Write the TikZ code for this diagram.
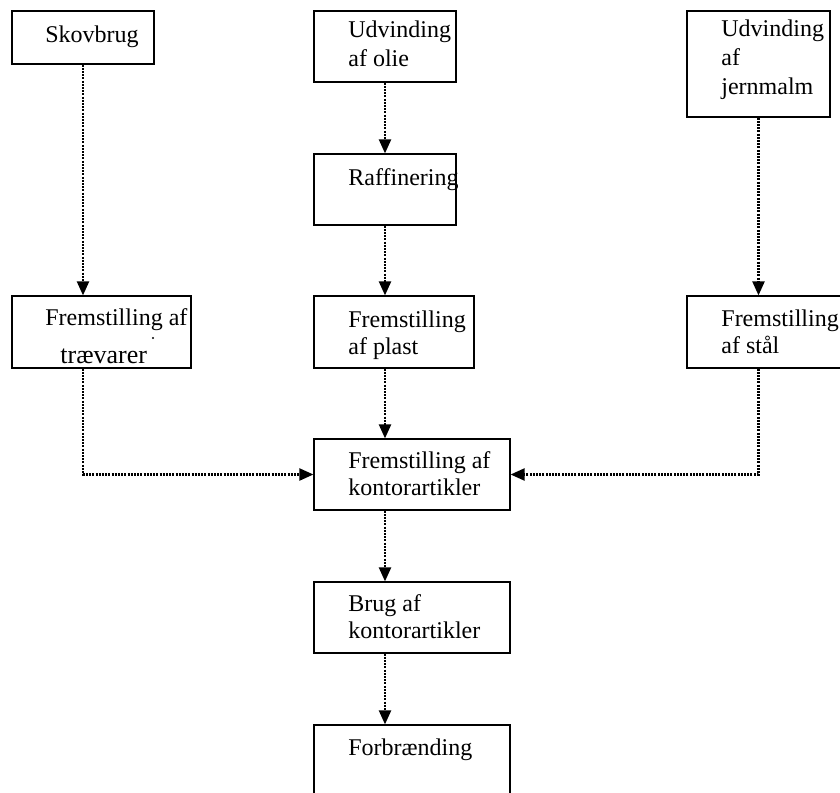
\documentclass[tikz,border=0pt]{standalone}
\usepackage{fontspec}
\setmainfont{Liberation Serif}
\usetikzlibrary{positioning}
\usetikzlibrary{arrows.meta}

\begin{document}
\begin{tikzpicture}[x=0.5pt, y=-0.5pt,
                boxnode/.style={rectangle, draw, line width=0.6pt, inner sep=0pt},
                textnode/.style={anchor=base west, inner sep=0pt, align=left, font=\fontsize{12}{13.4}\selectfont},
                toptext/.style={textnode, font=\fontsize{12}{14.7}\selectfont},
                flow/.style={dash pattern=on 1pt off 0.6pt, line width=1.1pt, -{Triangle[width=6pt,length=7pt]}},
            ]
            \clip (0,0) rectangle (840,792);

            % Boxes
            \node[boxnode, minimum width=71pt, minimum height=26.5pt]   (skovbrug)    at (83,37.5)    {};
            \node[boxnode, minimum width=71pt, minimum height=35.5pt]   (olie)        at (385,46.5)   {};
            \node[boxnode, minimum width=71.5pt, minimum height=53pt]   (jernmalm)    at (758.5,64)   {};
            \node[boxnode, minimum width=71pt, minimum height=35.5pt]   (raffinering) at (385,189.5)  {};
            \node[boxnode, minimum width=89.5pt, minimum height=36pt]   (traevarer)   at (101.5,332)  {};
            \node[boxnode, minimum width=80pt, minimum height=36pt]     (plast)       at (394,332)    {};
            \node[boxnode, minimum width=81.5pt, minimum height=36pt]   (staal)       at (768.5,332)  {};
            \node[boxnode, minimum width=98pt, minimum height=35.5pt]   (kontor)      at (412,474.5)  {};
            \node[boxnode, minimum width=98pt, minimum height=35.5pt]   (brug)        at (412,617.5)  {};
            \node[boxnode, minimum width=98pt, minimum height=36pt]     (forbrug)     at (412,761)    {};

            % Texts (anchored at the baseline of the last line)
            \node[textnode]     (skovbrug_t)      at (45,43)    {Skovbrug};
            \node[toptext]      (olie_t)          at (348,67)   {Udvinding\\af olie};
            \node[toptext]      (jernmalm_t)      at (721,95)   {Udvinding\\af\\jernmalm};
            \node[textnode]     (raffinering_t)   at (348,185)  {Raffinering};
            \node[textnode]     (traevarer_t1)    at (45,325)   {Fremstilling af};
            \node[textnode, font=\fontsize{13}{15}\selectfont] (traevarer_t2) at (60,363) {trævarer};
            \fill (153,338) circle (0.6pt);
            \node[textnode]     (plast_t)         at (348,354)  {Fremstilling\\af plast};
            \node[textnode]     (staal_t)         at (721,353)  {Fremstilling\\af stål};
            \node[textnode]     (kontor_t)        at (348,495)  {Fremstilling af\\kontorartikler};
            \node[textnode]     (brug_t)          at (348,638)  {Brug af\\kontorartikler};
            \node[textnode]     (forbrug_t)       at (348,755)  {Forbrænding};

            %Lines
            \draw[flow] (skovbrug.south) -- (skovbrug.south |- traevarer.north);
            \draw[flow] (olie.south) -- (raffinering.north);
            \draw[flow] (raffinering.south) -- (raffinering.south |- plast.north);
            \draw[flow] (jernmalm.south) -- (jernmalm.south |- staal.north);

            \draw[flow] (traevarer.south -| skovbrug.south) |- (kontor.west);
            \draw[flow] (plast.south -| olie.south) -- (olie.south |- kontor.north);
            \draw[flow] (staal.south -| jernmalm.south) |- (kontor.east);

            \draw[flow] (kontor.south -| olie.south) -- (olie.south |- brug.north);
            \draw[flow] (brug.south -| olie.south) -- (olie.south |- forbrug.north);
        \end{tikzpicture}
\end{document}
